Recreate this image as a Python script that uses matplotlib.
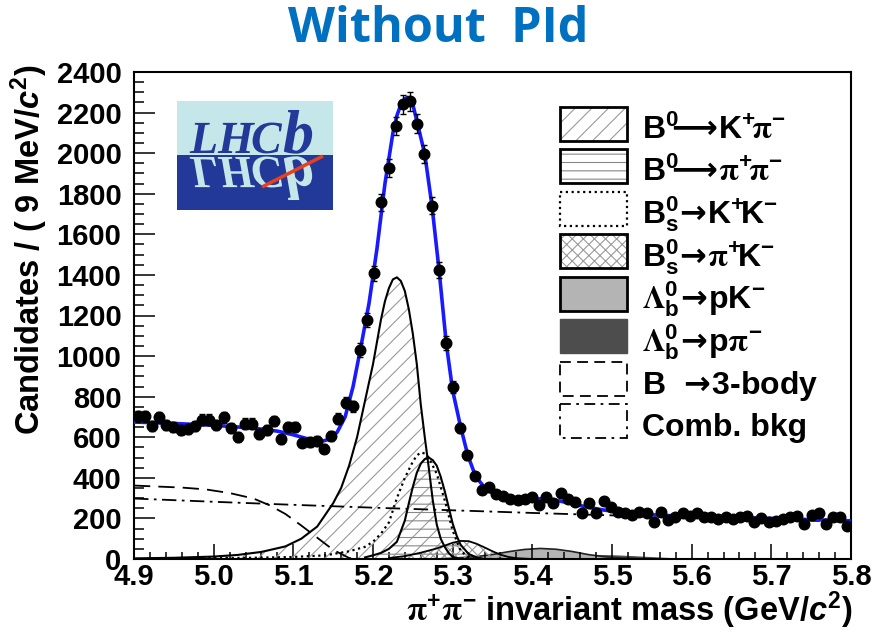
import numpy as np
import matplotlib.pyplot as plt
from matplotlib.patches import Rectangle, PathPatch
from matplotlib.textpath import TextPath
from matplotlib.font_manager import FontProperties
from matplotlib.transforms import Affine2D

plt.rcParams['font.family'] = ['Liberation Sans', 'DejaVu Sans']
plt.rcParams['font.weight'] = 'bold'
plt.rcParams['mathtext.fontset'] = 'custom'
plt.rcParams['mathtext.rm'] = 'Liberation Sans:bold'
plt.rcParams['mathtext.bf'] = 'Liberation Sans:bold'
plt.rcParams['mathtext.it'] = 'Liberation Sans:italic:bold'
plt.rcParams['mathtext.cal'] = 'STIXGeneral'
plt.rcParams['mathtext.sf'] = 'DejaVu Sans'
plt.rcParams['mathtext.default'] = 'rm'
plt.rcParams['hatch.linewidth'] = 0.8

# ---- data ----
# histogram: 100 bins of 9 MeV from 4.9 to 5.8 GeV
counts = [703, 703, 654, 698, 659, 651, 634, 642, 654, 687,
          687, 659, 698, 647, 601, 667, 667, 618, 634, 680,
          589, 651, 651, 574, 577, 582, 544, 605, 692, 770,
          752, 1030, 1179, 1408, 1757, 1926, 2134, 2240, 2255, 2146,
          1998, 1741, 1425, 1064, 847, 647, 511, 410, 339, 356,
          318, 310, 298, 290, 298, 306, 266, 306, 274, 323,
          298, 282, 228, 278, 228, 287, 257, 233, 225, 216,
          233, 228, 184, 233, 192, 205, 225, 211, 225, 205,
          205, 195, 205, 195, 205, 211, 184, 200, 184, 188,
          195, 205, 211, 172, 216, 225, 172, 208, 205, 162]

# total fit
fit_m = [4.90, 4.95, 5.00, 5.05, 5.08, 5.10, 5.12, 5.134, 5.145, 5.155,
         5.165, 5.175, 5.185, 5.195, 5.205, 5.215, 5.225, 5.23, 5.235, 5.24,
         5.2435, 5.247, 5.25, 5.256, 5.265, 5.274, 5.283, 5.292, 5.30, 5.31,
         5.319, 5.329, 5.343, 5.36, 5.38, 5.40, 5.42, 5.448, 5.47, 5.49,
         5.52, 5.557, 5.60, 5.657, 5.70, 5.75, 5.80]
fit_v = [675, 668, 659, 645, 630, 612, 590, 578, 590, 625,
         700, 850, 1050, 1260, 1530, 1850, 2100, 2185, 2240, 2268,
         2275, 2268, 2240, 2143, 1995, 1741, 1421, 1061, 830, 651,
         511, 405, 339, 305, 292, 295, 298, 274, 255, 241,
         228, 216, 210, 205, 200, 194, 188]

# B0 -> K+ pi-
kpi_m = [4.90, 4.95, 5.00, 5.03, 5.06, 5.09, 5.11, 5.13, 5.15, 5.16,
         5.17, 5.18, 5.19, 5.20, 5.21, 5.215, 5.22, 5.225, 5.23, 5.235,
         5.24, 5.245, 5.25, 5.255, 5.26, 5.265, 5.27, 5.275, 5.28, 5.285,
         5.29, 5.295, 5.30, 5.31]
kpi_v = [3, 6, 12, 20, 35, 62, 100, 160, 275, 350,
         460, 600, 780, 960, 1180, 1270, 1335, 1378, 1388, 1370,
         1320, 1230, 1110, 960, 760, 600, 450, 290, 170, 100,
         60, 30, 10, 0]

# B0 -> pi+ pi-
pipi_m = [5.19, 5.20, 5.21, 5.22, 5.23, 5.24, 5.245, 5.25, 5.255, 5.26,
          5.265, 5.27, 5.275, 5.28, 5.285, 5.29, 5.295, 5.30, 5.305, 5.31,
          5.32, 5.33, 5.34]
pipi_v = [8, 18, 30, 50, 85, 190, 275, 355, 425, 470,
          492, 500, 487, 460, 405, 335, 255, 175, 115, 70,
          25, 8, 0]

# Bs -> K+ K-
kk_m = [4.95, 5.00, 5.05, 5.10, 5.14, 5.17, 5.19, 5.20, 5.21, 5.22,
        5.23, 5.24, 5.25, 5.255, 5.26, 5.265, 5.27, 5.28, 5.29, 5.30,
        5.31, 5.32, 5.33]
kk_v = [2, 4, 6, 10, 18, 38, 60, 85, 125, 180,
        300, 400, 480, 510, 525, 520, 500, 420, 290, 140,
        40, 8, 0]

# Bs -> pi+ K-
pik_m = [5.22, 5.24, 5.26, 5.28, 5.29, 5.30, 5.31, 5.32, 5.33, 5.34,
         5.35, 5.36, 5.37, 5.38, 5.40]
pik_v = [5, 14, 31, 52, 66, 80, 89, 88, 75, 57,
         38, 21, 10, 4, 0]

# Lambda_b -> p K-
pk_m = [5.28, 5.30, 5.33, 5.35, 5.37, 5.39, 5.41, 5.43, 5.45, 5.47,
        5.49, 5.51, 5.53, 5.56]
pk_v = [0, 4, 12, 22, 36, 47, 52, 48, 37, 22,
        11, 5, 2, 0]

# Lambda_b -> p pi-
ppi_m = [5.38, 5.42, 5.45, 5.48, 5.51, 5.54, 5.57, 5.60, 5.63]
ppi_v = [0, 8, 16, 20, 17, 11, 5, 2, 0]

# B -> 3-body
tb_m = [4.90, 4.93, 4.96, 4.99, 5.02, 5.05, 5.07, 5.09, 5.11, 5.13,
        5.15, 5.17, 5.18]
tb_v = [362, 357, 352, 343, 325, 298, 265, 222, 165, 105,
        45, 5, 0]

# combinatorial background
comb_m = [4.9, 5.0, 5.1, 5.2, 5.3, 5.4, 5.5, 5.6, 5.7, 5.8]
comb_v = [298, 282, 267, 253, 240, 227, 215, 204, 193, 184]

LONG = r'\hspace{-0.45}\mathsf{\longrightarrow}\!'
SHORT = r'\!\mathsf{\rightarrow}\!'
legend_labels = [
    r'$B^{0}' + LONG + r'K^{+}\!\mathcal{\pi}^{-}$',
    r'$B^{0}' + LONG + r'\mathcal{\pi}^{+}\!\mathcal{\pi}^{-}$',
    r'$B^{0}_{s}' + SHORT + r'K^{+}\!K^{-}$',
    r'$B^{0}_{s}' + SHORT + r'\mathcal{\pi}^{+}\!K^{-}$',
    r'$\mathcal{\Lambda}^{0}_{b}' + SHORT + r'pK^{-}$',
    r'$\mathcal{\Lambda}^{0}_{b}' + SHORT + r'p\mathcal{\pi}^{-}$',
    r'B  $' + SHORT + r'$3-body',
    'Comb. bkg',
]

W, H = 875, 632
fig = plt.figure(figsize=(W / 100, H / 100), dpi=100)
ax = fig.add_axes([134 / W, 1 - 559 / H, (851 - 134) / W, (559 - 72) / H])

centres = 4.9 + 0.009 * (np.arange(len(counts)) + 0.5)
counts = np.array(counts, dtype=float)

HATCH_C = '#9a9a9a'
# filled components
ax.fill_between(ppi_m, ppi_v, 0, facecolor='#4d4d4d', edgecolor='#4d4d4d', lw=0.8, zorder=1)
ax.fill_between(pk_m, pk_v, 0, facecolor='#b4b4b4', edgecolor='none', zorder=1.2)
ax.plot(pk_m, pk_v, color='#222222', lw=1.2, zorder=1.3)
ax.fill_between(kpi_m, kpi_v, 0, facecolor='none', edgecolor=HATCH_C, hatch='//', lw=0, zorder=2)
ax.fill_between(pipi_m, pipi_v, 0, facecolor='none', edgecolor='#888888', hatch='--', lw=0, zorder=2.1)
ax.fill_between(pik_m, pik_v, 0, facecolor='none', edgecolor=HATCH_C, hatch='xxx', lw=0, zorder=2.2)
ax.plot(kpi_m, kpi_v, color='black', lw=1.5, zorder=3)
ax.plot(pipi_m, pipi_v, color='black', lw=1.5, zorder=3)
ax.plot(pik_m, pik_v, color='black', lw=1.3, zorder=3)
ax.plot(kk_m, kk_v, color='black', lw=1.6, ls=(0, (1, 1.6)), zorder=3)
ax.plot(tb_m, tb_v, color='black', lw=1.3, ls=(0, (9, 4.5)), zorder=3)
ax.plot(comb_m, comb_v, color='black', lw=1.3, ls=(0, (8, 3, 1.5, 3)), zorder=3)

ax.plot(fit_m, fit_v, color='#1a1aff', lw=2.6, zorder=4)
ax.errorbar(centres, counts, yerr=np.sqrt(counts), fmt='o', color='black',
            ms=7.6, elinewidth=1, capsize=2, capthick=1, zorder=5)

ax.set_xlim(4.9, 5.8)
ax.set_ylim(0, 2400)
ax.set_xticks(np.round(np.arange(4.9, 5.81, 0.1), 2))
ax.set_xticks(np.arange(4.9, 5.801, 0.02), minor=True)
ax.set_yticks(np.arange(0, 2401, 200))
ax.set_yticks(np.arange(0, 2401, 50), minor=True)
ax.set_xticklabels(['%.1f' % v for v in np.arange(4.9, 5.81, 0.1)])
ax.tick_params(axis='both', which='both', direction='in', top=False, right=False,
               labelsize=21, width=1.1)
ax.tick_params(axis='x', which='major', length=10.5, pad=3)
ax.tick_params(axis='x', which='minor', length=5.2)
ax.tick_params(axis='y', which='major', length=15, pad=9)
ax.tick_params(axis='y', which='minor', length=7.5)
for lab in ax.get_xticklabels() + ax.get_yticklabels():
    lab.set_fontweight('bold')
for s in ax.spines.values():
    s.set_linewidth(1.5)

# overlay in pixel coordinates
ov = fig.add_axes([0, 0, 1, 1], zorder=10)
ov.set_xlim(0, W)
ov.set_ylim(H, 0)
ov.axis('off')

ov.text(29, 64, r'Candidates / ( 9 MeV/$\mathit{c}^{2}$)', rotation=90,
        ha='center', va='top', fontsize=23.5, fontweight='bold')
ov.text(853, 610, r'$\mathcal{\pi}^{+}\mathcal{\pi}^{-}$ invariant mass (GeV/$\mathit{c}^{2}$)',
        ha='right', va='center', fontsize=23.5, fontweight='bold')
ov.text(438, 30, 'Without  PId', ha='center', va='center', fontsize=35,
        fontweight='bold', family='Open Sans', color='#0070c0')

# LHCb logo
ov.add_patch(Rectangle((177, 101), 156, 54, facecolor='#c6e7e9', edgecolor='none'))
ov.add_patch(Rectangle((177, 155), 156, 55, facecolor='#23399a', edgecolor='none'))
logo_font = FontProperties(family='Liberation Serif', style='italic', weight='bold')
letters = [('L', 190, 46), ('H', 218, 46), ('C', 251, 46), ('b', 283, 62)]
for ch, lx, size in letters:
    tp = TextPath((0, 0), ch, size=size, prop=logo_font)
    up = Affine2D().scale(1, -1).translate(lx, 153) + ov.transData
    ov.add_patch(PathPatch(tp, facecolor='#23399a', edgecolor='none', transform=up))
    down = Affine2D().translate(lx, 157) + ov.transData
    ov.add_patch(PathPatch(tp, facecolor='#c6e7e9', edgecolor='none', transform=down))
ov.plot([262, 323], [187, 156], color='#e8401c', lw=2.5, solid_capstyle='butt')

# legend
box_x, box_w, box_h = 560, 67, 34
for k, lab in enumerate(legend_labels):
    top = 106.7 + 42.5 * k
    if k == 0:
        ov.add_patch(Rectangle((box_x, top), box_w, box_h, facecolor='none',
                               edgecolor=HATCH_C, hatch='//', lw=0))
        ov.add_patch(Rectangle((box_x, top), box_w, box_h, facecolor='none',
                               edgecolor='black', lw=2))
    elif k == 1:
        ov.add_patch(Rectangle((box_x, top), box_w, box_h, facecolor='none',
                               edgecolor='#888888', hatch='--', lw=0))
        ov.add_patch(Rectangle((box_x, top), box_w, box_h, facecolor='none',
                               edgecolor='black', lw=2))
    elif k == 2:
        ov.add_patch(Rectangle((box_x, top), box_w, box_h, facecolor='none',
                               edgecolor='black', lw=1.6, ls=(0, (1, 1.6))))
    elif k == 3:
        ov.add_patch(Rectangle((box_x, top), box_w, box_h, facecolor='none',
                               edgecolor=HATCH_C, hatch='xxx', lw=0))
        ov.add_patch(Rectangle((box_x, top), box_w, box_h, facecolor='none',
                               edgecolor='black', lw=2))
    elif k == 4:
        ov.add_patch(Rectangle((box_x, top), box_w, box_h, facecolor='#b4b4b4',
                               edgecolor='black', lw=2))
    elif k == 5:
        ov.add_patch(Rectangle((box_x, top), box_w, box_h, facecolor='#4d4d4d',
                               edgecolor='#4d4d4d', lw=1))
    elif k == 6:
        ov.add_patch(Rectangle((box_x, top), box_w, box_h, facecolor='none',
                               edgecolor='black', lw=1.3, ls=(0, (6, 3.5))))
    else:
        ov.add_patch(Rectangle((box_x, top), box_w, box_h, facecolor='none',
                               edgecolor='black', lw=1.3, ls=(0, (6, 3, 1.5, 3))))
    ov.text(642, top + box_h - 2, lab, ha='left', va='baseline', fontsize=23,
            fontweight='bold')

fig.savefig('out.png', dpi=100)
